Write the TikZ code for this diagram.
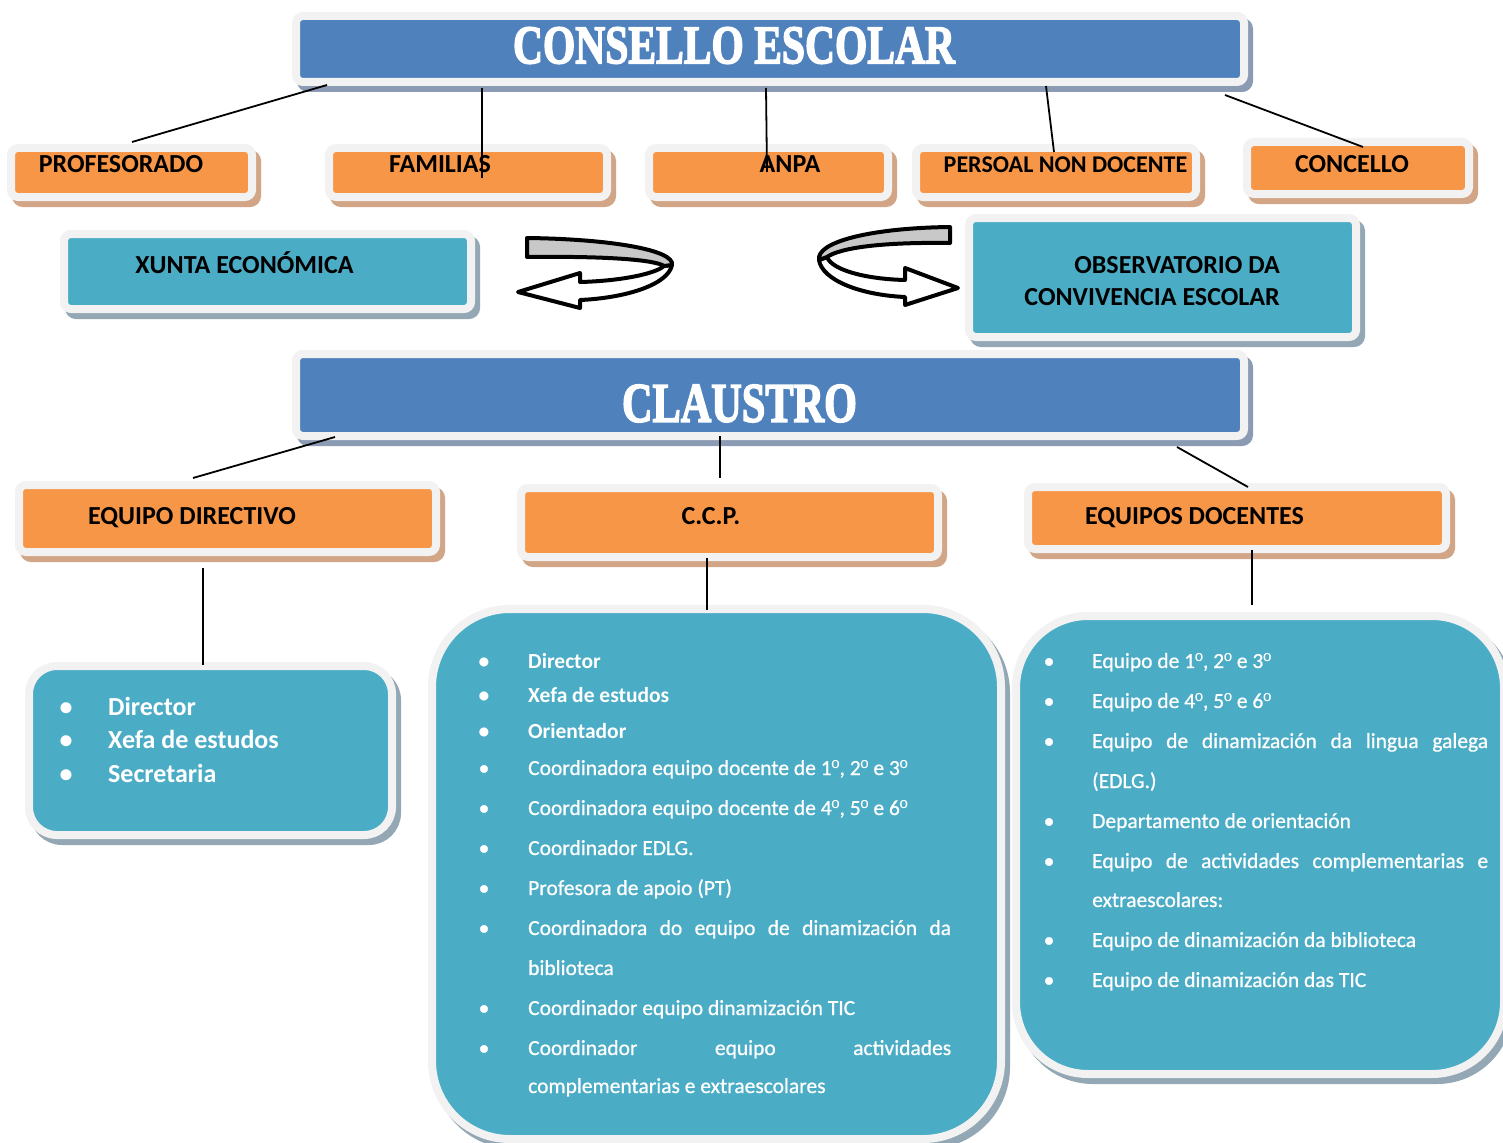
\documentclass[tikz,border=0pt]{standalone}
\usepackage{fontspec}
\usepackage{graphicx}
\setmainfont{Carlito}
\newfontfamily\titlefont{Liberation Serif}[FakeBold=3]
\newfontfamily\semibfont{Carlito}[FakeBold=0.7]
\newfontfamily\ordfont{Liberation Sans}
\newcommand{\ordo}{{\ordfont º}}
\definecolor{frameC}{HTML}{F2F2F2}
\definecolor{orangeC}{HTML}{F79646}
\definecolor{blueC}{HTML}{4F81BD}
\definecolor{tealC}{HTML}{4BACC6}
\definecolor{tanS}{HTML}{D1A585}
\definecolor{blueS}{HTML}{8A9BB3}
\definecolor{tealS}{HTML}{93A8B4}
\definecolor{ribbonC}{HTML}{C8C8C8}
\newcommand{\mylistitem}[6]{%
  \node[bul,font=#6] (#1b) at (#2,#4) {•};
  \node[itm,font=#6] (#1) at (#3,#4) {#5};}
\newcommand{\mylistcont}[5]{%
  \node[itm,font=#5] (#1) at (#2,#3) {#4};}
\begin{document}
\begin{tikzpicture}[x=1pt,y=-1pt,
  basebox/.style={line width=8pt, draw=frameC, inner sep=0pt, rounded corners=7pt},
  obox/.style={basebox, fill=orangeC, preaction={draw=tanS, fill=tanS, line width=8pt, transform canvas={xshift=5pt,yshift=-6pt}}},
  bbox/.style={basebox, fill=blueC, preaction={draw=blueS, fill=blueS, line width=8pt, transform canvas={xshift=5pt,yshift=-6pt}}},
  tbox/.style={basebox, fill=tealC, preaction={draw=tealS, fill=tealS, line width=8pt, transform canvas={xshift=5pt,yshift=-6pt}}},
  otxt/.style={anchor=base, inner sep=0pt, text=black, font=\fontsize{26}{30}\selectfont\bfseries},
  ttl/.style={inner sep=0pt, text=white},
  bul/.style={anchor=base, inner sep=0pt, text=white},
  itm/.style={anchor=base west, inner sep=0pt, text=white},
  con/.style={draw=black, line width=1.8pt},
  rib/.style={draw=black, line width=4pt, line join=round}]
\fill[white] (0,0) rectangle (1503,1142);
\useasboundingbox (0,0) rectangle (1503,1142);

% ---------- CONSELLO ESCOLAR ----------
\node[bbox, minimum width=948pt, minimum height=66pt] (consello) at (770,49) {};
\node[ttl] (consellot) at (734,45.5) {\resizebox{442pt}{36pt}{\titlefont\bfseries CONSELLO ESCOLAR}};

% ---------- first row ----------
\node[obox, minimum width=241pt, minimum height=49pt] (prof) at (131.5,172.5) {};
\node[otxt] (proft) at (121,173) {PROFESORADO};
\node[obox, minimum width=278pt, minimum height=49pt] (fam) at (468,172.5) {};
\node[otxt] (famt) at (440,173) {FAMILIAS};
\node[obox, minimum width=239pt, minimum height=49pt] (anpa) at (768.5,172.5) {};
\node[otxt] (anpat) at (790,173) {ANPA};
\node[obox, minimum width=280pt, minimum height=49pt] (pers) at (1056,172.5) {};
\node[otxt, font=\fontsize{24}{28}\selectfont\bfseries] (perst) at (1065.5,173) {PERSOAL NON DOCENTE};
\node[obox, minimum width=222pt, minimum height=52pt] (conc) at (1358,168) {};
\node[otxt] (conct) at (1352,173) {CONCELLO};

% ---------- second row ----------
\node[tbox, minimum width=407pt, minimum height=75pt] (xunta) at (267.5,271.5) {};
\node[otxt] (xuntat) at (244.5,273) {XUNTA ECONÓMICA};
\node[tbox, minimum width=387pt, minimum height=119pt] (obs) at (1162.5,277.5) {};
\node[otxt, anchor=base east] (obst1) at (1280,273) {OBSERVATORIO DA};
\node[otxt, anchor=base east] (obst2) at (1280,305) {CONVIVENCIA ESCOLAR};

% ---------- curved arrows ----------
\path[rib, fill=white] (672,265) .. controls (668,285) and (625,298) .. (580,300) -- (580,308) -- (518,292) -- (580,273) -- (580,282) .. controls (620,281) and (655,274) .. (664,266) -- cycle;
\path[rib, fill=ribbonC] (527,238) .. controls (610,239) and (675,250) .. (672,265) -- (664,266) .. controls (655,260) and (610,256) .. (527,257) -- cycle;
\path[rib, fill=white] (819,260) .. controls (822,280) and (860,295) .. (905,297) -- (905,305) -- (958,288) -- (905,268) -- (905,280) .. controls (865,279) and (832,270) .. (827,257) -- cycle;
\path[rib, fill=ribbonC] (950,227) .. controls (870,228) and (816,242) .. (819,260) -- (827,257) .. controls (840,248) and (880,242) .. (950,243) -- cycle;

% ---------- CLAUSTRO ----------
\node[bbox, minimum width=948pt, minimum height=82pt] (claustro) at (770,395) {};
\node[ttl] (claustrot) at (739.5,403.5) {\resizebox{235pt}{37pt}{\titlefont\bfseries CLAUSTRO}};

% ---------- third row ----------
\node[obox, minimum width=417pt, minimum height=67pt] (eqdir) at (227.5,518.5) {};
\node[otxt] (eqdirt) at (192,524) {EQUIPO DIRECTIVO};
\node[obox, minimum width=417pt, minimum height=69pt] (ccp) at (729.5,522.5) {};
\node[otxt] (ccpt) at (711,524) {C.C.P.};
\node[obox, minimum width=418pt, minimum height=62pt] (eqdoc) at (1237,518) {};
\node[otxt] (eqdoct) at (1194.5,524) {EQUIPOS DOCENTES};

% ---------- list boxes ----------
\node[tbox, rounded corners=28pt, minimum width=363pt, minimum height=169pt] (dirlist) at (210.5,750.5) {};
\node[tbox, rounded corners=78pt, minimum width=569pt, minimum height=530pt] (ccplist) at (716.5,874) {};
\node[tbox, rounded corners=72pt, minimum width=488pt, minimum height=458pt] (doclist) at (1260,845) {};

% directivo items
\mylistitem{d1}{66}{108}{715}{Director}{\fontsize{26}{30}\selectfont\bfseries}
\mylistitem{d2}{66}{108}{748}{Xefa de estudos}{\fontsize{26}{30}\selectfont\bfseries}
\mylistitem{d3}{66}{108}{782}{Secretaria}{\fontsize{26}{30}\selectfont\bfseries}

% ccp items
\mylistitem{c1}{484}{528}{668}{Director}{\fontsize{21.5}{26}\selectfont\bfseries}
\mylistitem{c2}{484}{528}{702}{Xefa de estudos}{\fontsize{21.5}{26}\selectfont\bfseries}
\mylistitem{c3}{484}{528}{738}{Orientador}{\fontsize{21.5}{26}\selectfont\bfseries}
\mylistitem{c4}{484}{528}{775}{Coordinadora equipo docente de 1\ordo, 2\ordo{} e 3\ordo}{\semibfont\fontsize{21.5}{26}\selectfont}
\mylistitem{c5}{484}{528}{815}{Coordinadora equipo docente de 4\ordo, 5\ordo{} e 6\ordo}{\semibfont\fontsize{21.5}{26}\selectfont}
\mylistitem{c6}{484}{528}{855}{Coordinador EDLG.}{\semibfont\fontsize{21.5}{26}\selectfont}
\mylistitem{c7}{484}{528}{895}{Profesora de apoio (PT)}{\semibfont\fontsize{21.5}{26}\selectfont}
\mylistitem{c8}{484}{528}{935}{\makebox[423pt][s]{Coordinadora do equipo de dinamización da}}{\semibfont\fontsize{21.5}{26}\selectfont}
\mylistcont{c8x}{528}{975}{biblioteca}{\semibfont\fontsize{21.5}{26}\selectfont}
\mylistitem{c9}{484}{528}{1015}{Coordinador equipo dinamización TIC}{\semibfont\fontsize{21.5}{26}\selectfont}
\mylistitem{c10}{484}{528}{1055}{\makebox[423pt][s]{Coordinador equipo actividades}}{\semibfont\fontsize{21.5}{26}\selectfont}
\mylistcont{c10x}{528}{1093}{complementarias e extraescolares}{\semibfont\fontsize{21.5}{26}\selectfont}

% docentes items
\mylistitem{e1}{1049}{1092}{668}{Equipo de 1\ordo, 2\ordo{} e 3\ordo}{\semibfont\fontsize{21.5}{26}\selectfont}
\mylistitem{e2}{1049}{1092}{708}{Equipo de 4\ordo, 5\ordo{} e 6\ordo}{\semibfont\fontsize{21.5}{26}\selectfont}
\mylistitem{e3}{1049}{1092}{748}{\makebox[396pt][s]{Equipo de dinamización da lingua galega}}{\semibfont\fontsize{21.5}{26}\selectfont}
\mylistcont{e3x}{1092}{788}{(EDLG.)}{\semibfont\fontsize{21.5}{26}\selectfont}
\mylistitem{e4}{1049}{1092}{828}{Departamento de orientación}{\semibfont\fontsize{21.5}{26}\selectfont}
\mylistitem{e5}{1049}{1092}{868}{\makebox[396pt][s]{Equipo de actividades complementarias e}}{\semibfont\fontsize{21.5}{26}\selectfont}
\mylistcont{e5x}{1092}{907}{extraescolares:}{\semibfont\fontsize{21.5}{26}\selectfont}
\mylistitem{e6}{1049}{1092}{947}{Equipo de dinamización da biblioteca}{\semibfont\fontsize{21.5}{26}\selectfont}
\mylistitem{e7}{1049}{1092}{987}{Equipo de dinamización das TIC}{\semibfont\fontsize{21.5}{26}\selectfont}

% ---------- connectors ----------
\coordinate (k1a) at (327,85);   \coordinate (k1b) at (132,142);
\coordinate (k2a) at (482,88);   \coordinate (k2b) at (482,178);
\coordinate (k3a) at (766,88);   \coordinate (k3b) at (767,172);
\coordinate (k4a) at (1046,86);  \coordinate (k4b) at (1054,152);
\coordinate (k5a) at (1225,95);  \coordinate (k5b) at (1363,147);
\coordinate (k6a) at (335,437);  \coordinate (k6b) at (193,478);
\coordinate (k7a) at (720,436);  \coordinate (k7b) at (720,478);
\coordinate (k8a) at (1177,447); \coordinate (k8b) at (1248,487);
\coordinate (k9a) at (203,568);  \coordinate (k9b) at (203,665);
\coordinate (k10a) at (707,558); \coordinate (k10b) at (707,610);
\coordinate (k11a) at (1252,550);\coordinate (k11b) at (1252,605);
\foreach \i in {1,...,11} {\draw[con] (k\i a) -- (k\i b);}
\end{tikzpicture}
\end{document}
